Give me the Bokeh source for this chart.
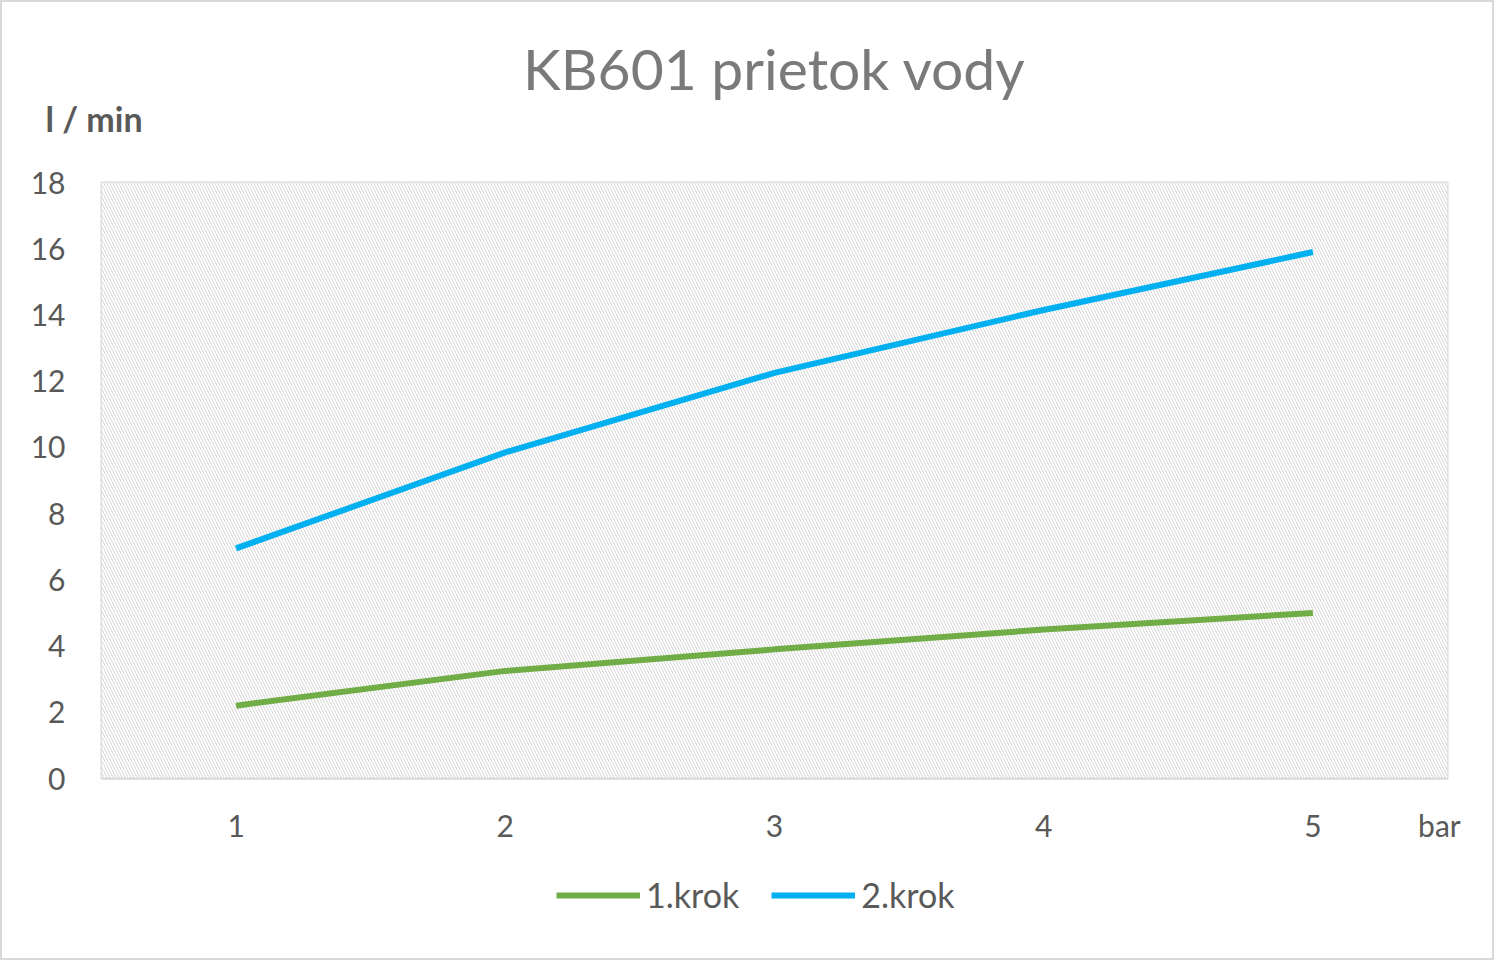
from bokeh.plotting import figure
from bokeh.layouts import column
from bokeh.models import (ColumnDataSource, Range1d, FixedTicker, Title, Legend,
                          LegendItem, BoxAnnotation)
from bokeh.embed import file_html
from bokeh.resources import INLINE

# data
pressure = [1, 2, 3, 4, 5]
krok1 = [2.2, 3.25, 3.9, 4.5, 5.0]
krok2 = [6.95, 9.85, 12.25, 14.15, 15.9]
y_ticks = [0, 2, 4, 6, 8, 10, 12, 14, 16, 18]
unit_pos = 5.47  # where the "bar" unit sits on the x axis

FONT = "Lato"
TEXT = "#595959"
GRID = "#d9d9d9"
GREEN = "#70AD47"
BLUE = "#00B0F0"

source = ColumnDataSource(data=dict(x=pressure, k1=krok1, k2=krok2))

p = figure(frame_width=1346, frame_height=596, output_backend="svg",
           toolbar_location=None,
           x_range=Range1d(0.5, 5.5), y_range=Range1d(0, 18),
           min_border_left=99, min_border_right=45, min_border_top=180,
           min_border_bottom=84)
p.title.visible = False
p.background_fill_color = "white"
p.outline_line_color = GRID
p.outline_line_width = 2

# hatched plot area like the Excel pattern fill
p.add_layout(BoxAnnotation(fill_color="white", fill_alpha=1.0, line_color=None,
                           hatch_pattern="\\", hatch_scale=6, hatch_weight=1,
                           hatch_color="#d6d6d6", level="underlay"))

p.xaxis.ticker = FixedTicker(ticks=pressure + [unit_pos])
p.xaxis.major_label_overrides = {unit_pos: "bar"}
p.yaxis.ticker = FixedTicker(ticks=y_ticks)
p.xgrid.ticker = FixedTicker(ticks=[1, 1.5, 2, 2.5, 3, 3.5, 4, 4.5, 5])
p.xgrid.grid_line_color = GRID
p.ygrid.grid_line_color = GRID
p.xgrid.grid_line_width = 2
p.ygrid.grid_line_width = 2

for ax in (p.xaxis, p.yaxis):
    ax.major_tick_line_color = None
    ax.minor_tick_line_color = None
    ax.major_label_text_font = FONT
    ax.major_label_text_font_size = "30px"
    ax.major_label_text_color = TEXT
p.yaxis.axis_line_color = None
p.yaxis.major_label_standoff = 30
p.xaxis.axis_line_color = GRID
p.xaxis.axis_line_width = 2
p.xaxis.major_label_standoff = 22

p.line("x", "k1", source=source, line_color=GREEN, line_width=6)
p.line("x", "k2", source=source, line_color=BLUE, line_width=6)

p.add_layout(Title(text="l / min", align="left", offset=-56, standoff=88,
                   text_font=FONT, text_font_style="bold",
                   text_font_size="34px", text_color=TEXT), "above")
p.add_layout(Title(text="KB601 prietok vody", align="center", offset=-19,
                   standoff=-100, text_font=FONT, text_font_style="normal",
                   text_font_size="57px", text_color="#7a7a7a"), "above")

# legend strip under the chart (its lines sit outside the visible range)
leg = figure(width=1490, height=96, output_backend="svg", toolbar_location=None,
             x_range=Range1d(100, 101), y_range=Range1d(100, 101), min_border=0)
leg.axis.visible = False
leg.grid.visible = False
leg.outline_line_color = None
g1 = leg.line("x", "k1", source=source, line_color=GREEN, line_width=6)
g2 = leg.line("x", "k2", source=source, line_color=BLUE, line_width=6)
leg.add_layout(Legend(items=[LegendItem(label="1.krok", renderers=[g1]),
                             LegendItem(label="2.krok", renderers=[g2])],
                      orientation="horizontal", location=(455, 43),
                      label_text_font=FONT, label_text_font_size="34px",
                      label_text_color=TEXT, glyph_width=84, glyph_height=30,
                      label_standoff=6, spacing=32, border_line_color=None,
                      background_fill_alpha=0))

page = column(p, leg, spacing=0)
page.styles = {"border": "2px solid #d9d9d9"}

open("out.html", "w").write(file_html(page, INLINE))
